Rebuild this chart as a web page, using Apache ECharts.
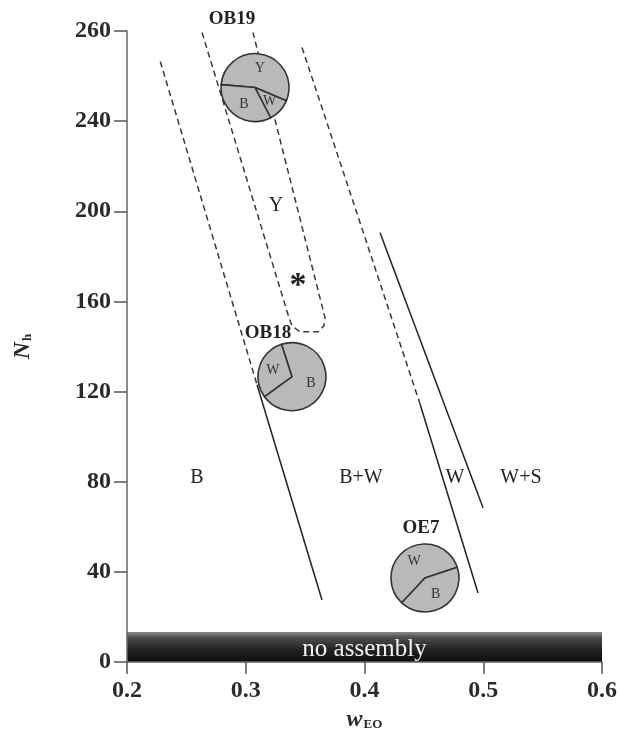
<!DOCTYPE html>
<html>
<head>
<meta charset="utf-8">
<script src="https://cdn.jsdelivr.net/npm/echarts@6/dist/echarts.min.js"></script>
<style>
  html, body { margin: 0; padding: 0; background: #fff; }
  #chart { width: 620px; height: 740px; }
</style>
</head>
<body>
<div id="chart"></div>
<script>
// tick labels as printed on the figure (top one reads 260)
const yTickLabels = ['0', '40', '80', '120', '160', '200', '240', '260'];

// no assembly band: x0, y0, x1, y1
const noAssembly = [0.2, 0, 0.6, 13.3];

// phase boundaries (w_EO, N_h)
const leftDashed = [[0.228, 266.5], [0.3095, 123.0]];
const leftSolid = [[0.3095, 123.0], [0.3642, 27.5]];
const midDashed = [[0.3474, 272.7], [0.4467, 114.6]];
const midSolid = [[0.4467, 114.6], [0.4956, 30.6]];
const rightSolid = [[0.4131, 190.5], [0.4998, 68.4]];
const yRegion = [[0.2632, 279.3], [0.3364, 152.8], [0.3389, 149.2], [0.3457, 146.5],
                 [0.3608, 146.5], [0.3659, 149.2], [0.3667, 152.8], [0.3061, 279.3]];

// region names
const regionNames = ['B', 'B+W', 'W', 'W+S', 'Y'];
const regionX = [0.2589, 0.397, 0.4762, 0.5318, 0.3255];
const regionY = [81.7, 81.7, 81.7, 81.7, 202.5];
const starPoint = [0.344, 169.6];

// sample pies
const sampleNames = ['OB19', 'OB18', 'OE7'];
const sampleLabelX = [0.2884, 0.3187, 0.4476];
const sampleLabelY = [285.1, 146.1, 59.5];
const pieX = [0.3078, 0.3389, 0.4509];
const pieY = [254.9, 126.6, 37.3];
const pieStart = [175, 108, 227];
const pieParts = [['Y', 'W', 'B'], ['B', 'W'], ['W', 'B']];
const pieShares = [[55, 11, 34], [70, 30], [58, 42]];

const serif = '"Liberation Serif", "DejaVu Serif", serif';
const chart = echarts.init(document.getElementById('chart'));

function lineSeries(data, dashed) {
    return {
        type: 'line',
        data: data,
        symbol: 'none',
        z: 1,
        silent: true,
        lineStyle: {
            color: dashed ? '#3a3a3a' : '#222',
            width: 1.5,
            type: dashed ? [6, 4] : 'solid'
        }
    };
}

function textSeries(data, size, bold, offset) {
    return {
        type: 'scatter',
        clip: false,
        symbolSize: 0,
        silent: true,
        itemStyle: { opacity: 1 },
        data: data,
        label: {
            show: true, position: 'inside', formatter: '{b}', offset: offset || [0, 0],
            fontFamily: serif, fontWeight: bold ? 'bold' : 'normal', fontSize: size, color: '#222'
        }
    };
}

const option = {
    backgroundColor: '#fff',
    animation: false,
    grid: { left: 127, right: 18, top: 31, bottom: 78 },
    xAxis: {
        type: 'value', min: 0.2, max: 0.6, interval: 0.1,
        axisLine: { show: true, lineStyle: { color: '#666', width: 1.5 } },
        axisTick: { show: true, length: 12, lineStyle: { color: '#555', width: 1.5 } },
        axisLabel: {
            formatter: v => v.toFixed(1),
            fontFamily: serif, fontWeight: 'bold', fontSize: 24, color: '#2a2a2a', margin: 17
        },
        splitLine: { show: false },
        name: '{w|w}{s|EO}',
        nameLocation: 'middle',
        nameGap: 42,
        nameTextStyle: {
            rich: {
                w: { fontFamily: serif, fontStyle: 'italic', fontWeight: 'bold', fontSize: 24, color: '#2a2a2a' },
                s: { fontFamily: serif, fontWeight: 'bold', fontSize: 13, color: '#2a2a2a', padding: [10, 0, 0, 1] }
            }
        }
    },
    yAxis: {
        type: 'value', min: 0, max: 280, interval: 40,
        axisLine: { show: true, lineStyle: { color: '#666', width: 1.5 } },
        axisTick: { show: true, length: 13, lineStyle: { color: '#555', width: 1.5 } },
        axisLabel: {
            formatter: v => yTickLabels[Math.round(v / 40)],
            fontFamily: serif, fontWeight: 'bold', fontSize: 24, color: '#2a2a2a', margin: 16
        },
        splitLine: { show: false },
        name: '{n|N}{s|h}',
        nameLocation: 'middle',
        nameGap: 92,
        nameRotate: 90,
        nameTextStyle: {
            rich: {
                n: { fontFamily: serif, fontStyle: 'italic', fontWeight: 'bold', fontSize: 24, color: '#2a2a2a' },
                s: { fontFamily: serif, fontWeight: 'bold', fontSize: 13, color: '#2a2a2a', padding: [10, 0, 0, 1] }
            }
        }
    },
    series: [
        {
            type: 'custom',
            data: [noAssembly],
            z: 0,
            renderItem: function (params, api) {
                const p0 = api.coord([api.value(0), api.value(1)]);
                const p1 = api.coord([api.value(2), api.value(3)]);
                return {
                    type: 'group',
                    children: [{
                        type: 'rect',
                        shape: { x: p0[0], y: p1[1], width: p1[0] - p0[0], height: p0[1] - p1[1] },
                        style: {
                            fill: new echarts.graphic.LinearGradient(0, 0, 0, 1, [
                                { offset: 0, color: '#8c8c8c' },
                                { offset: 0.18, color: '#4e4e4e' },
                                { offset: 0.55, color: '#262626' },
                                { offset: 1, color: '#0c0c0c' }
                            ])
                        }
                    }, {
                        type: 'text',
                        x: (p0[0] + p1[0]) / 2,
                        y: (p0[1] + p1[1]) / 2 + 2,
                        style: {
                            text: 'no assembly', fill: '#f2f2f2',
                            font: '25px ' + serif, align: 'center', verticalAlign: 'middle'
                        }
                    }]
                };
            }
        },
        lineSeries(leftDashed, true),
        lineSeries(leftSolid, false),
        lineSeries(midDashed, true),
        lineSeries(midSolid, false),
        lineSeries(rightSolid, false),
        lineSeries(yRegion, true),
        textSeries(regionNames.map((n, i) => ({ name: n, value: [regionX[i], regionY[i]] })), 20, false),
        textSeries([{ name: '*', value: starPoint }], 34, true, [0, 6]),
        textSeries(sampleNames.map((n, i) => ({ name: n, value: [sampleLabelX[i], sampleLabelY[i]] })), 19, true)
    ]
};

chart.setOption(option);

// pies are placed at data coordinates converted through the grid
const pies = pieX.map((x, i) => {
    const c = chart.convertToPixel({ gridIndex: 0 }, [x, pieY[i]]);
    return {
        type: 'pie',
        center: c,
        radius: 34,
        startAngle: pieStart[i],
        clockwise: true,
        silent: true,
        z: 3,
        itemStyle: { color: '#b9b9b9', borderColor: '#333', borderWidth: 1.6 },
        label: {
            show: true, position: 'inside', formatter: '{b}',
            fontFamily: serif, fontSize: 14, color: '#333'
        },
        labelLine: { show: false },
        data: pieParts[i].map((p, j) => ({ name: p, value: pieShares[i][j] }))
    };
});

chart.setOption({ series: option.series.concat(pies) });
</script>
</body>
</html>
